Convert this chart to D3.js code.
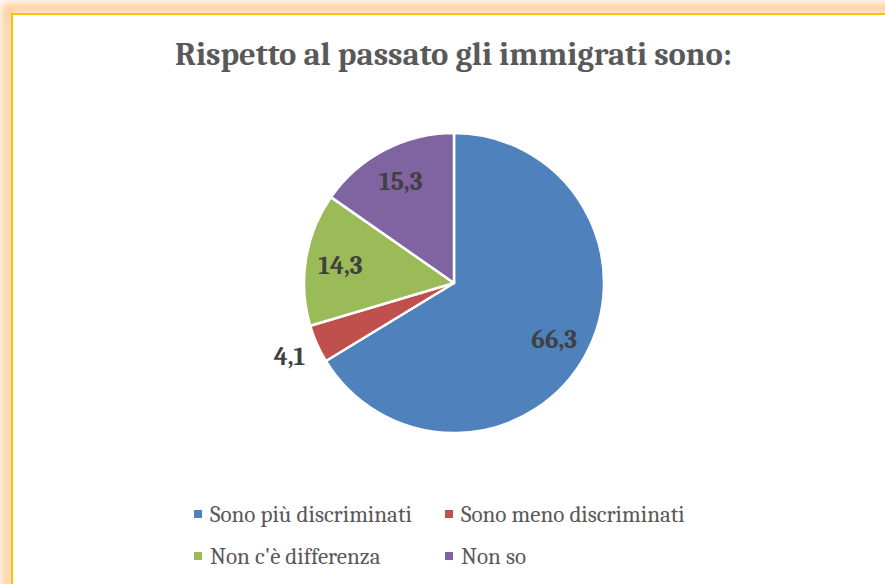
<!DOCTYPE html>
<html>
<head>
<meta charset="utf-8">
<script src="https://cdn.jsdelivr.net/npm/d3@7"></script>
<style>
  body { margin: 0; background: #fff; }
  svg { display: block; }
</style>
</head>
<body>
<div class="viz"></div>
<script>
var categories = ["Sono più discriminati", "Sono meno discriminati", "Non c'è differenza", "Non so"];
var values = [66.3, 4.1, 14.3, 15.3];
var labels = ["66,3", "4,1", "14,3", "15,3"];
var colors = ["#4F81BD", "#C0504D", "#9BBB59", "#8064A2"];
var title = "Rispetto al passato gli immigrati sono:";

var width = 885,
    height = 584,
    center = [454, 283],
    radius = 150;

var serif = "Cambria, 'Liberation Serif', 'DejaVu Serif', serif";

var svg = d3.select(".viz").append("svg")
    .attr("width", width)
    .attr("height", height);

// glow round the chart border
var defs = svg.append("defs");
defs.append("filter")
    .attr("id", "glow")
    .attr("x", "-10%").attr("y", "-10%")
    .attr("width", "120%").attr("height", "120%")
  .append("feGaussianBlur")
    .attr("stdDeviation", 4.5);

svg.append("rect")
    .attr("x", 7).attr("y", 8)
    .attr("width", 1000).attr("height", 800)
    .attr("fill", "none")
    .attr("stroke", "#FCCB95")
    .attr("stroke-width", 10)
    .attr("filter", "url(#glow)");

svg.append("rect")
    .attr("x", 12).attr("y", 14)
    .attr("width", 1000).attr("height", 800)
    .attr("fill", "#fff")
    .attr("stroke", "#FFC000")
    .attr("stroke-width", 2);

// fit text to a width
function fitText(sel, targetWidth) {
    var size = parseFloat(sel.attr("font-size"));
    var w = sel.node().getComputedTextLength();
    sel.attr("font-size", size * targetWidth / w);
}

var titleText = svg.append("text")
    .attr("x", 453.5)
    .attr("y", 65)
    .attr("text-anchor", "middle")
    .attr("font-family", serif)
    .attr("font-weight", "bold")
    .attr("font-size", 28)
    .attr("fill", "#595959")
    .text(title);
fitText(titleText, 557);

var pie = d3.pie()
    .sort(null)
    .value(function(d) { return d; });

var arcs = pie(values);

var arc = d3.arc()
    .innerRadius(0)
    .outerRadius(radius);

var g = svg.append("g")
    .attr("transform", "translate(" + center[0] + "," + center[1] + ")");

g.selectAll("path.slice")
    .data(arcs)
    .enter().append("path")
    .attr("class", "slice")
    .attr("d", arc)
    .attr("fill", function(d, i) { return colors[i]; })
    .attr("stroke", "#fff")
    .attr("stroke-width", 2.5)
    .attr("stroke-linejoin", "round");

// small slices get the label outside, the rest inside
var inner = d3.arc().innerRadius(115).outerRadius(115);
var outer = d3.arc().innerRadius(180).outerRadius(180);

var lbl = g.selectAll("text.lbl")
    .data(arcs)
    .enter().append("text")
    .attr("class", "lbl")
    .attr("transform", function(d) {
        var small = (d.endAngle - d.startAngle) < 0.5;
        var c = small ? outer.centroid(d) : inner.centroid(d);
        return "translate(" + c[0] + "," + c[1] + ")";
    })
    .attr("dy", "0.35em")
    .attr("text-anchor", "middle")
    .attr("font-family", serif)
    .attr("font-weight", "bold")
    .attr("font-size", 21)
    .attr("fill", "#404040")
    .text(function(d, i) { return labels[i]; });
fitText(d3.select(lbl.nodes()[0]), 46);
lbl.attr("font-size", d3.select(lbl.nodes()[0]).attr("font-size"));

// legend, two rows of two
var legendX = [194, 445],
    legendY = [514, 556];

var legend = svg.append("g");
var items = legend.selectAll("g.item")
    .data(categories)
    .enter().append("g")
    .attr("class", "item")
    .attr("transform", function(d, i) {
        return "translate(" + legendX[i % 2] + "," + legendY[Math.floor(i / 2)] + ")";
    });

items.append("rect")
    .attr("x", 0).attr("y", -4)
    .attr("width", 8).attr("height", 8)
    .attr("fill", function(d, i) { return colors[i]; });

var legendText = items.append("text")
    .attr("x", 16)
    .attr("dy", "0.35em")
    .attr("font-family", serif)
    .attr("font-size", 20)
    .attr("fill", "#595959")
    .text(function(d) { return d; });

var w0 = legendText.nodes()[0].getComputedTextLength();
legendText.attr("font-size", 20 * 202 / w0);
</script>
</body>
</html>
